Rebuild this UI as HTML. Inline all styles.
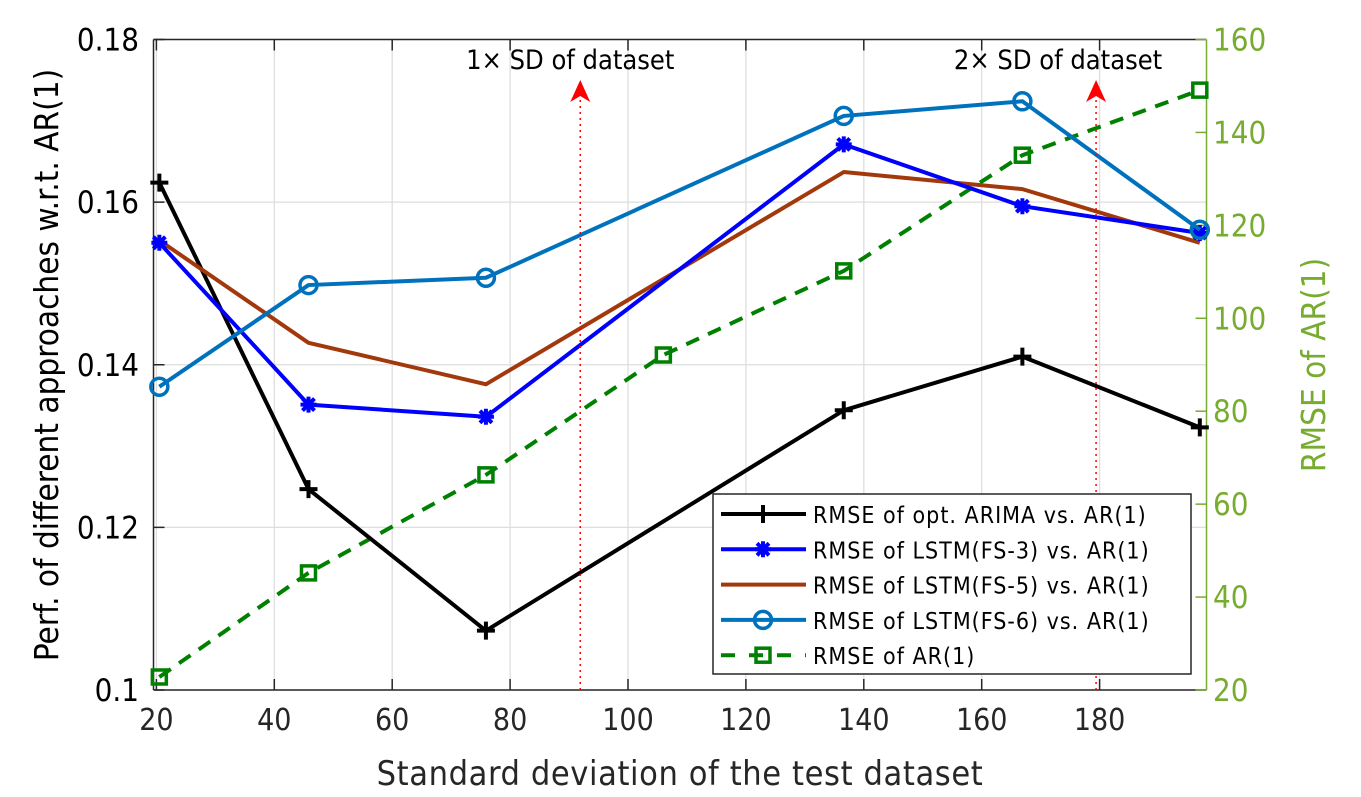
<!DOCTYPE html>
<html><head><meta charset="utf-8"><style>
html,body{margin:0;padding:0;background:#fff;}
svg{display:block;font-family:"DejaVu Sans Condensed","Liberation Sans",sans-serif;}
</style></head><body>
<svg id="chart" width="1361" height="797" viewBox="0 0 1361 797" xmlns="http://www.w3.org/2000/svg">
<g id="grid"></g>
<g id="axes"></g>
<g id="series"></g>
<g id="annot"></g>
<g id="legend"></g>
</svg>
<script>
const xVals = [20.5, 45.8, 75.9, 136.6, 166.9, 197];
const arimaVals = [0.1624, 0.1247, 0.1073, 0.1344, 0.141, 0.1323];
const fs3Vals = [0.155, 0.1351, 0.1336, 0.1671, 0.1595, 0.1562];
const fs5Vals = [0.1553, 0.1427, 0.1376, 0.1637, 0.1616, 0.155];
const fs6Vals = [0.1373, 0.1498, 0.1507, 0.1706, 0.1724, 0.1566];
const arXVals = [20.5, 45.8, 75.9, 106, 136.6, 166.9, 197];
const arVals = [22.8, 45.2, 66.3, 92.1, 110.2, 135.1, 149.1];
const xTicks = [20, 40, 60, 80, 100, 120, 140, 160, 180];
const yTicks = [0.1, 0.12, 0.14, 0.16, 0.18];
const yTickLabels = ["0.1", "0.12", "0.14", "0.16", "0.18"];
const y2Ticks = [20, 40, 60, 80, 100, 120, 140, 160];
const sdLines = [91.9, 179.4];
const sdLabels = ["1\u00d7 SD of dataset", "2\u00d7 SD of dataset"];

const L = 153.5, R = 1206.5, T = 39.5, B = 690;
const sx = v => 156.4 + (v - 20) * 5.895;
const sy = v => B - (v - 0.1) / 0.08 * (B - T);
const sy2 = v => B - (v - 20) / 140 * (B - T);
const NS = "http://www.w3.org/2000/svg";
function mk(parent, tag, attrs, text) {
  const e = document.createElementNS(NS, tag);
  for (const k in attrs) e.setAttribute(k, attrs[k]);
  if (text !== undefined) e.textContent = text;
  parent.appendChild(e);
  return e;
}
const grid = document.getElementById('grid'), axes = document.getElementById('axes');
const series = document.getElementById('series'), annot = document.getElementById('annot');
const legend = document.getElementById('legend');

xTicks.forEach(t => {
  const g = mk(grid, 'line', {x1: sx(t), x2: sx(t), y1: T, y2: B, stroke: '#dedede', 'stroke-width': 1.3});
  
  
});
yTicks.forEach(t => {
  const g = mk(grid, 'line', {x1: L, x2: R, y1: sy(t), y2: sy(t), stroke: '#dedede', 'stroke-width': 1.3});
  
  
});
let a = mk(axes, 'path', {d: `M${L},${B} L${R},${B} M${L},${T} L${R},${T} M${L},${T} L${L},${B}`, stroke: '#262626', 'stroke-width': 1.5, fill: 'none'});


a = mk(axes, 'line', {x1: R, x2: R, y1: T, y2: B, stroke: '#77ac30', 'stroke-width': 1.5});


xTicks.forEach(t => {
  const x = sx(t);
  mk(axes, 'line', {x1: x, x2: x, y1: B, y2: B - 11, stroke: '#262626', 'stroke-width': 1.5});
  mk(axes, 'line', {x1: x, x2: x, y1: T, y2: T + 11, stroke: '#262626', 'stroke-width': 1.5});
  const tx = mk(axes, 'text', {x: x, y: B + 40, 'text-anchor': 'middle', 'font-size': 30, fill: '#262626'}, String(t));
  
  
});
yTicks.forEach((t, i) => {
  const y = sy(t);
  mk(axes, 'line', {x1: L, x2: L + 11, y1: y, y2: y, stroke: '#262626', 'stroke-width': 1.5});
  const tx = mk(axes, 'text', {x: 139, y: y + 11, 'text-anchor': 'end', 'font-size': 31, fill: '#000'}, yTickLabels[i]);
  
  
});
y2Ticks.forEach(t => {
  const y = sy2(t);
  mk(axes, 'line', {x1: R, x2: R - 11, y1: y, y2: y, stroke: '#77ac30', 'stroke-width': 1.5});
  const tx = mk(axes, 'text', {x: 1213, y: y + 11, 'text-anchor': 'start', 'font-size': 31, fill: '#77ac30'}, String(t));
  
  
});
let t1 = mk(axes, 'text', {x: 680, y: 785, 'text-anchor': 'middle', 'font-size': 34, fill: '#262626', 'letter-spacing': 0.6}, 'Standard deviation of the test dataset');


t1 = mk(axes, 'text', {x: 0, y: 0, 'text-anchor': 'middle', 'font-size': 33, fill: '#000', transform: 'translate(58,365) rotate(-90)'}, 'Perf. of different approaches w.r.t. AR(1)');


t1 = mk(axes, 'text', {x: 0, y: 0, 'text-anchor': 'middle', 'font-size': 33, fill: '#77ac30', transform: 'translate(1325,365) rotate(-90)'}, 'RMSE of AR(1)');



sdLines.forEach((v, i) => {
  const x = sx(v);
  const ln = mk(annot, 'line', {x1: x, x2: x, y1: 100, y2: B, stroke: '#ff0000', 'stroke-width': 1.5, 'stroke-dasharray': '2,4'});
  
  
  const ar = mk(annot, 'path', {d: `M${x},80 L${x + 10},102 L${x},96 L${x - 10},102 Z`, fill: '#ff0000'});
  
  
  const tx = mk(annot, 'text', {x: x - (i === 0 ? 10 : 38), y: 69, 'text-anchor': 'middle', 'font-size': 27, fill: '#000'}, sdLabels[i]);
  
  
});

function marker(g, type, x, y, color) {
  if (type === 'plus') {
    mk(g, 'path', {d: `M${x - 9},${y} L${x + 9},${y} M${x},${y - 9} L${x},${y + 9}`, stroke: color, 'stroke-width': 4});
  } else if (type === 'star') {
    mk(g, 'path', {d: `M${x - 8},${y} L${x + 8},${y} M${x},${y - 8} L${x},${y + 8} M${x - 6},${y - 6} L${x + 6},${y + 6} M${x - 6},${y + 6} L${x + 6},${y - 6}`, stroke: color, 'stroke-width': 4});
  } else if (type === 'circle') {
    mk(g, 'circle', {cx: x, cy: y, r: 8.5, fill: 'none', stroke: color, 'stroke-width': 3.5});
  } else if (type === 'square') {
    mk(g, 'rect', {x: x - 7, y: y - 7, width: 14, height: 14, fill: 'none', stroke: color, 'stroke-width': 3.5});
  }
}
const defs = [
  {name: 'arima', xs: xVals, ys: arimaVals, color: '#000000', m: 'plus', scale: sy, dash: null, label: 'RMSE of opt. ARIMA vs. AR(1)'},
  {name: 'lstm-fs3', xs: xVals, ys: fs3Vals, color: '#0000ff', m: 'star', scale: sy, dash: null, label: 'RMSE of LSTM(FS-3) vs. AR(1)'},
  {name: 'lstm-fs5', xs: xVals, ys: fs5Vals, color: '#a2390c', m: null, scale: sy, dash: null, label: 'RMSE of LSTM(FS-5) vs. AR(1)'},
  {name: 'lstm-fs6', xs: xVals, ys: fs6Vals, color: '#0072bd', m: 'circle', scale: sy, dash: null, label: 'RMSE of LSTM(FS-6)  vs. AR(1)'},
  {name: 'ar1', xs: arXVals, ys: arVals, color: '#008000', m: 'square', scale: sy2, dash: '14,10', label: 'RMSE of AR(1)'}
];
const order = [4, 0, 2, 1, 3];
order.forEach(i => {
  const d = defs[i];
  const g = mk(series, 'g', {});
  
  
  const pts = d.xs.map((x, k) => sx(x) + ',' + d.scale(d.ys[k])).join(' ');
  const attrs = {points: pts, fill: 'none', stroke: d.color, 'stroke-width': 4, 'stroke-linejoin': 'round'};
  if (d.dash) attrs['stroke-dasharray'] = d.dash;
  const pl = mk(g, 'polyline', attrs);
  
  
  if (d.m) d.xs.forEach((x, k) => marker(g, d.m, sx(x), d.scale(d.ys[k]), d.color));
});

const lb = mk(legend, 'rect', {x: 713, y: 494, width: 478, height: 180, fill: '#fff', stroke: '#262626', 'stroke-width': 1.5});


defs.forEach((d, i) => {
  const y = 514 + i * 35.3;
  const g = mk(legend, 'g', {});
  
  
  const la = {x1: 721, x2: 806, y1: y, y2: y, stroke: d.color, 'stroke-width': 4};
  if (d.dash) la['stroke-dasharray'] = '14,14';
  mk(g, 'line', la);
  if (d.m) marker(g, d.m, 763, y, d.color);
  mk(g, 'text', {x: 813, y: y + 9, 'font-size': 23, fill: '#000', 'letter-spacing': 1}, d.label);
});
</script>
</body></html>
